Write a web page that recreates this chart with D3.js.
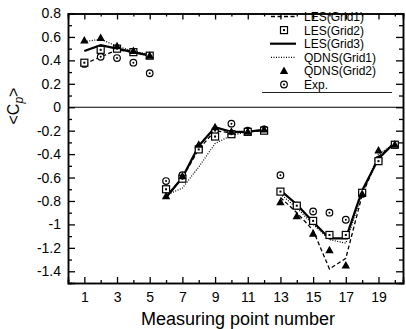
<!DOCTYPE html>
<html>
<head>
<meta charset="utf-8">
<script src="https://cdn.jsdelivr.net/npm/d3@7"></script>
<style>
  body { margin: 0; background: #fff; }
  svg { display: block; font-family: "Liberation Sans", Arial, sans-serif; }
  .axis path { stroke: #000; stroke-width: 1.5; }
  .axis line { stroke: #000; stroke-width: 1.3; }
  .axis text { fill: #000; font-size: 14px; }
</style>
</head>
<body>
<div id="chart"></div>
<script>
// measuring points, split in three groups (lines break between groups)
const groups = [
  [1, 2, 3, 4, 5],
  [6, 7, 8, 9, 10, 11, 12],
  [13, 14, 15, 16, 17, 18, 19, 20]
];

const les1 = [
  [0.37, 0.43, 0.49, 0.47, 0.44],
  [-0.76, -0.60, -0.36, -0.20, -0.22, -0.21, -0.20],
  [-0.77, -0.90, -1.05, -1.38, -1.29, -0.75, -0.42, -0.31]
];
const les2 = [
  [0.38, 0.49, 0.50, 0.47, 0.44],
  [-0.70, -0.61, -0.36, -0.25, -0.23, -0.21, -0.20],
  [-0.72, -0.84, -0.97, -1.09, -1.09, -0.73, -0.46, -0.32]
];
const les3 = [
  [0.48, 0.53, 0.50, 0.47, 0.44],
  [-0.77, -0.60, -0.33, -0.17, -0.21, -0.21, -0.19],
  [-0.71, -0.83, -0.98, -1.12, -1.12, -0.71, -0.44, -0.30]
];
const qdns1 = [
  [0.56, 0.58, 0.52, 0.48, 0.45],
  [-0.75, -0.69, -0.51, -0.31, -0.24, -0.21, -0.20],
  [-0.74, -0.86, -1.00, -1.13, -1.16, -0.74, -0.40, -0.31]
];
const qdns2 = [
  [0.57, 0.59, 0.52, 0.48, 0.44],
  [-0.76, -0.59, -0.32, -0.17, -0.21, -0.21, -0.19],
  [-0.81, -0.93, -1.08, -1.22, -1.35, -0.74, -0.37, -0.32]
];
const exp = [
  [0.37, 0.43, 0.42, 0.38, 0.29],
  [-0.63, -0.58, -0.35, -0.20, -0.14, -0.20, -0.19],
  [-0.58, -0.84, -0.89, -0.90, -0.96, -0.74, -0.45, -0.32]
];

const xMajor = [1, 3, 5, 7, 9, 11, 13, 15, 17, 19];
const xMinor = [2, 4, 6, 8, 10, 12, 14, 16, 18, 20];
const yMajor = [0.8, 0.6, 0.4, 0.2, 0, -0.2, -0.4, -0.6, -0.8, -1, -1.2, -1.4];
const yMinor = [0.7, 0.5, 0.3, 0.1, -0.1, -0.3, -0.5, -0.7, -0.9, -1.1, -1.3];

const legendNames = ['LES(Grid1)', 'LES(Grid2)', 'LES(Grid3)', 'QDNS(Grid1)', 'QDNS(Grid2)', 'Exp.'];

const W = 406, H = 329;
const svg = d3.select('#chart').append('svg').attr('width', W).attr('height', H);

const x = d3.scaleLinear().domain([0, 20.5]).range([68, 403]);
const y = d3.scaleLinear().domain([-1.5, 0.8]).range([283, 13.5]);
const fmt = d => String(d);

// axes with inward ticks
svg.append('g').attr('class', 'axis').attr('transform', 'translate(0,283)')
  .call(d3.axisBottom(x).tickValues(xMajor).tickSize(-6).tickPadding(9).tickFormat(fmt));
svg.append('g').attr('class', 'axis').attr('transform', 'translate(0,283)')
  .call(d3.axisBottom(x).tickValues(xMinor).tickSize(-3).tickFormat(''));
svg.append('g').attr('class', 'axis').attr('transform', 'translate(0,13.5)')
  .call(d3.axisTop(x).tickValues(xMajor).tickSize(-6).tickFormat(''));
svg.append('g').attr('class', 'axis').attr('transform', 'translate(0,13.5)')
  .call(d3.axisTop(x).tickValues(xMinor).tickSize(-3).tickFormat(''));

svg.append('g').attr('class', 'axis').attr('transform', 'translate(68,0)')
  .call(d3.axisLeft(y).tickValues(yMajor).tickSize(-7).tickPadding(7).tickFormat(fmt));
svg.append('g').attr('class', 'axis').attr('transform', 'translate(68,0)')
  .call(d3.axisLeft(y).tickValues(yMinor).tickSize(-4).tickFormat(''));
svg.append('g').attr('class', 'axis').attr('transform', 'translate(403,0)')
  .call(d3.axisRight(y).tickValues(yMajor).tickSize(-7).tickFormat(''));
svg.append('g').attr('class', 'axis').attr('transform', 'translate(403,0)')
  .call(d3.axisRight(y).tickValues(yMinor).tickSize(-4).tickFormat(''));

// zero line
svg.append('line')
  .attr('x1', x(0)).attr('x2', x(20.5))
  .attr('y1', y(0)).attr('y2', y(0))
  .attr('stroke', '#000').attr('stroke-width', 1.2);

// axis titles
svg.append('text')
  .attr('x', 238).attr('y', 325)
  .attr('text-anchor', 'middle')
  .style('font-size', '18px')
  .text('Measuring point number');

const yt = svg.append('text')
  .attr('transform', 'translate(19,106) rotate(-90)')
  .attr('text-anchor', 'middle')
  .style('font-size', '16px');
yt.append('tspan').text('<C');
yt.append('tspan').attr('dy', 4).style('font-size', '12px').style('font-style', 'italic').text('p');
yt.append('tspan').attr('dy', -4).text('>');

// lines
const line = d3.line().x(d => x(d[0])).y(d => y(d[1]));
const pairs = vals => groups.map((g, i) => g.map((n, j) => [n, vals[i][j]]));

function drawLines(vals, dash, width) {
  pairs(vals).forEach(seg => {
    svg.append('path')
      .attr('d', line(seg))
      .attr('fill', 'none')
      .attr('stroke', '#000')
      .attr('stroke-width', width)
      .attr('stroke-dasharray', dash);
  });
}
drawLines(qdns1, '1,1.5', 1.2);
drawLines(les1, '4,2.5', 1.3);
drawLines(les3, null, 2.2);

// markers
function square(g, cx, cy) {
  g.append('rect').attr('x', cx - 3.5).attr('y', cy - 3.5).attr('width', 7).attr('height', 7)
    .attr('fill', '#fff').attr('stroke', '#000').attr('stroke-width', 1.2);
  g.append('rect').attr('x', cx - 1).attr('y', cy - 1).attr('width', 2).attr('height', 2).attr('fill', '#000');
}
function circle(g, cx, cy) {
  g.append('circle').attr('cx', cx).attr('cy', cy).attr('r', 3.3)
    .attr('fill', '#fff').attr('stroke', '#000').attr('stroke-width', 1.2);
  g.append('circle').attr('cx', cx).attr('cy', cy).attr('r', 1).attr('fill', '#000');
}
function triangle(g, cx, cy) {
  g.append('path')
    .attr('d', `M${cx},${cy - 4.5}L${cx + 4.2},${cy + 3}L${cx - 4.2},${cy + 3}Z`)
    .attr('fill', '#000');
}

const mk = svg.append('g');
pairs(exp).flat().forEach(d => circle(mk, x(d[0]), y(d[1])));
pairs(les2).flat().forEach(d => square(mk, x(d[0]), y(d[1])));
pairs(qdns2).flat().forEach(d => triangle(mk, x(d[0]), y(d[1])));

// legend
const lg = svg.append('g');
const rowY = i => 16.5 + i * 13.6;
legendNames.forEach((name, i) => {
  lg.append('text')
    .attr('x', 304).attr('y', rowY(i) + 4.5)
    .style('font-size', '12px')
    .text(name);
});
lg.append('line').attr('x1', 271).attr('x2', 296).attr('y1', rowY(0)).attr('y2', rowY(0))
  .attr('stroke', '#000').attr('stroke-width', 1.3).attr('stroke-dasharray', '4,2.5');
square(lg, 284, rowY(1));
lg.append('line').attr('x1', 270).attr('x2', 296).attr('y1', rowY(2)).attr('y2', rowY(2))
  .attr('stroke', '#000').attr('stroke-width', 2.2);
lg.append('line').attr('x1', 271).attr('x2', 296).attr('y1', rowY(3)).attr('y2', rowY(3))
  .attr('stroke', '#000').attr('stroke-width', 1.2).attr('stroke-dasharray', '1,1.5');
triangle(lg, 284, rowY(4));
circle(lg, 284, rowY(5));
lg.append('line').attr('x1', 262).attr('x2', 392).attr('y1', 92.5).attr('y2', 92.5)
  .attr('stroke', '#222').attr('stroke-width', 1);
</script>
</body>
</html>
